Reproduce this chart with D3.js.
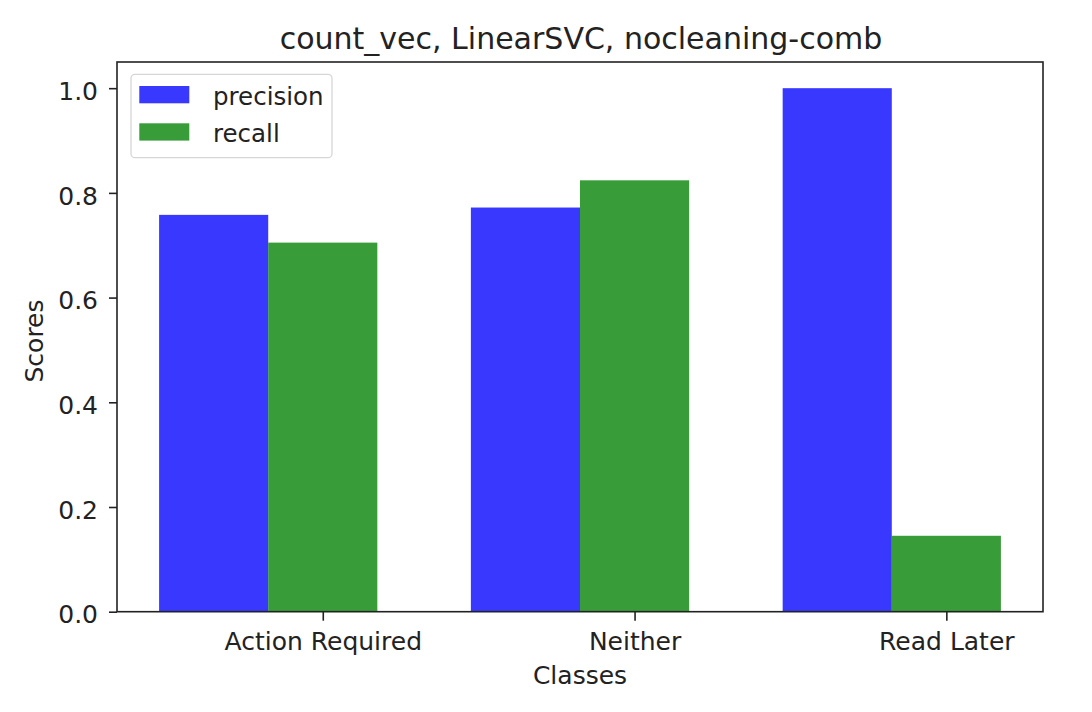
<!DOCTYPE html>
<html>
<head>
<meta charset="utf-8">
<script src="https://cdn.jsdelivr.net/npm/d3@7"></script>
<style>
  html, body { margin: 0; padding: 0; background: #fff; }
  text { font-family: "DejaVu Sans", sans-serif; fill: #222; }
</style>
</head>
<body>
<svg id="chart" width="1092" height="712"></svg>
<script>
const categories = ["Action Required", "Neither", "Read Later"];
const seriesNames = ["precision", "recall"];
const precision = [0.758, 0.772, 1.0];
const recall = [0.705, 0.824, 0.145];
const yTicks = [0.0, 0.2, 0.4, 0.6, 0.8, 1.0];
const title = "count_vec, LinearSVC, nocleaning-comb";
const xLabel = "Classes";
const yLabel = "Scores";

const colors = ["rgba(0,0,255,0.78)", "rgba(0,128,0,0.78)"];
const barW = 0.35;

const svg = d3.select("#chart");
const m = { left: 117, right: 1043, top: 62, bottom: 611.7 };

const series = [precision, recall];
const lo = 0 - barW / 2, hi = (categories.length - 1) + barW + barW / 2;
const pad = (hi - lo) * 0.05;
const x = d3.scaleLinear().domain([lo - pad, hi + pad]).range([m.left, m.right]);
const yMax = d3.max(series.flat()) * 1.05;
const y = d3.scaleLinear().domain([0, yMax]).range([m.bottom, m.top]);

// bars
series.forEach((vals, si) => {
  svg.append("g").selectAll("rect").data(vals).join("rect")
    .attr("x", (d, i) => x(i + si * barW - barW / 2))
    .attr("width", x(barW) - x(0))
    .attr("y", d => y(d))
    .attr("height", d => y(0) - y(d))
    .attr("fill", colors[si]);
});

// axes
const fs = 25;
const yAxis = svg.append("g").attr("transform", `translate(${m.left},0)`)
  .call(d3.axisLeft(y).tickValues(yTicks).tickFormat(d3.format(".1f")).tickSize(8).tickPadding(11));
const xAxis = svg.append("g").attr("transform", `translate(0,${m.bottom})`)
  .call(d3.axisBottom(x).tickValues(categories.map((c, i) => i + barW)).tickFormat((d, i) => categories[i]).tickSize(9).tickPadding(12));
[xAxis, yAxis].forEach(g => {
  g.select(".domain").remove();
  g.selectAll(".tick line").attr("stroke", "#222").attr("stroke-width", 1.6);
  g.selectAll(".tick text").attr("font-size", fs).attr("font-family", "DejaVu Sans").attr("fill", "#222");
});
yAxis.selectAll(".tick text").attr("dy", "0.45em");

// frame
svg.append("rect").attr("x", m.left).attr("y", m.top)
  .attr("width", m.right - m.left).attr("height", m.bottom - m.top)
  .attr("fill", "none").attr("stroke", "#222").attr("stroke-width", 1.6);

// title and labels
svg.append("text").attr("x", (m.left + m.right) / 2 + 1).attr("y", 49)
  .attr("text-anchor", "middle").attr("font-size", 30).text(title);
svg.append("text").attr("x", 580).attr("y", 684)
  .attr("text-anchor", "middle").attr("font-size", fs).text(xLabel);
svg.append("text").attr("transform", `translate(43,341) rotate(-90)`)
  .attr("text-anchor", "middle").attr("font-size", fs).text(yLabel);

// legend
const lg = svg.append("g");
lg.append("rect").attr("x", 131).attr("y", 74.3).attr("width", 201).attr("height", 83.4)
  .attr("rx", 4).attr("fill", "rgba(255,255,255,0.8)").attr("stroke", "#d6d6d6").attr("stroke-width", 1.3);
seriesNames.forEach((n, i) => {
  const yy = 86 + i * 37.3;
  lg.append("rect").attr("x", 139.3).attr("y", yy).attr("width", 50).attr("height", 17.3).attr("fill", colors[i]);
  lg.append("text").attr("x", 213).attr("y", yy + 19).attr("font-size", 24.5).text(n);
});
</script>
</body>
</html>
